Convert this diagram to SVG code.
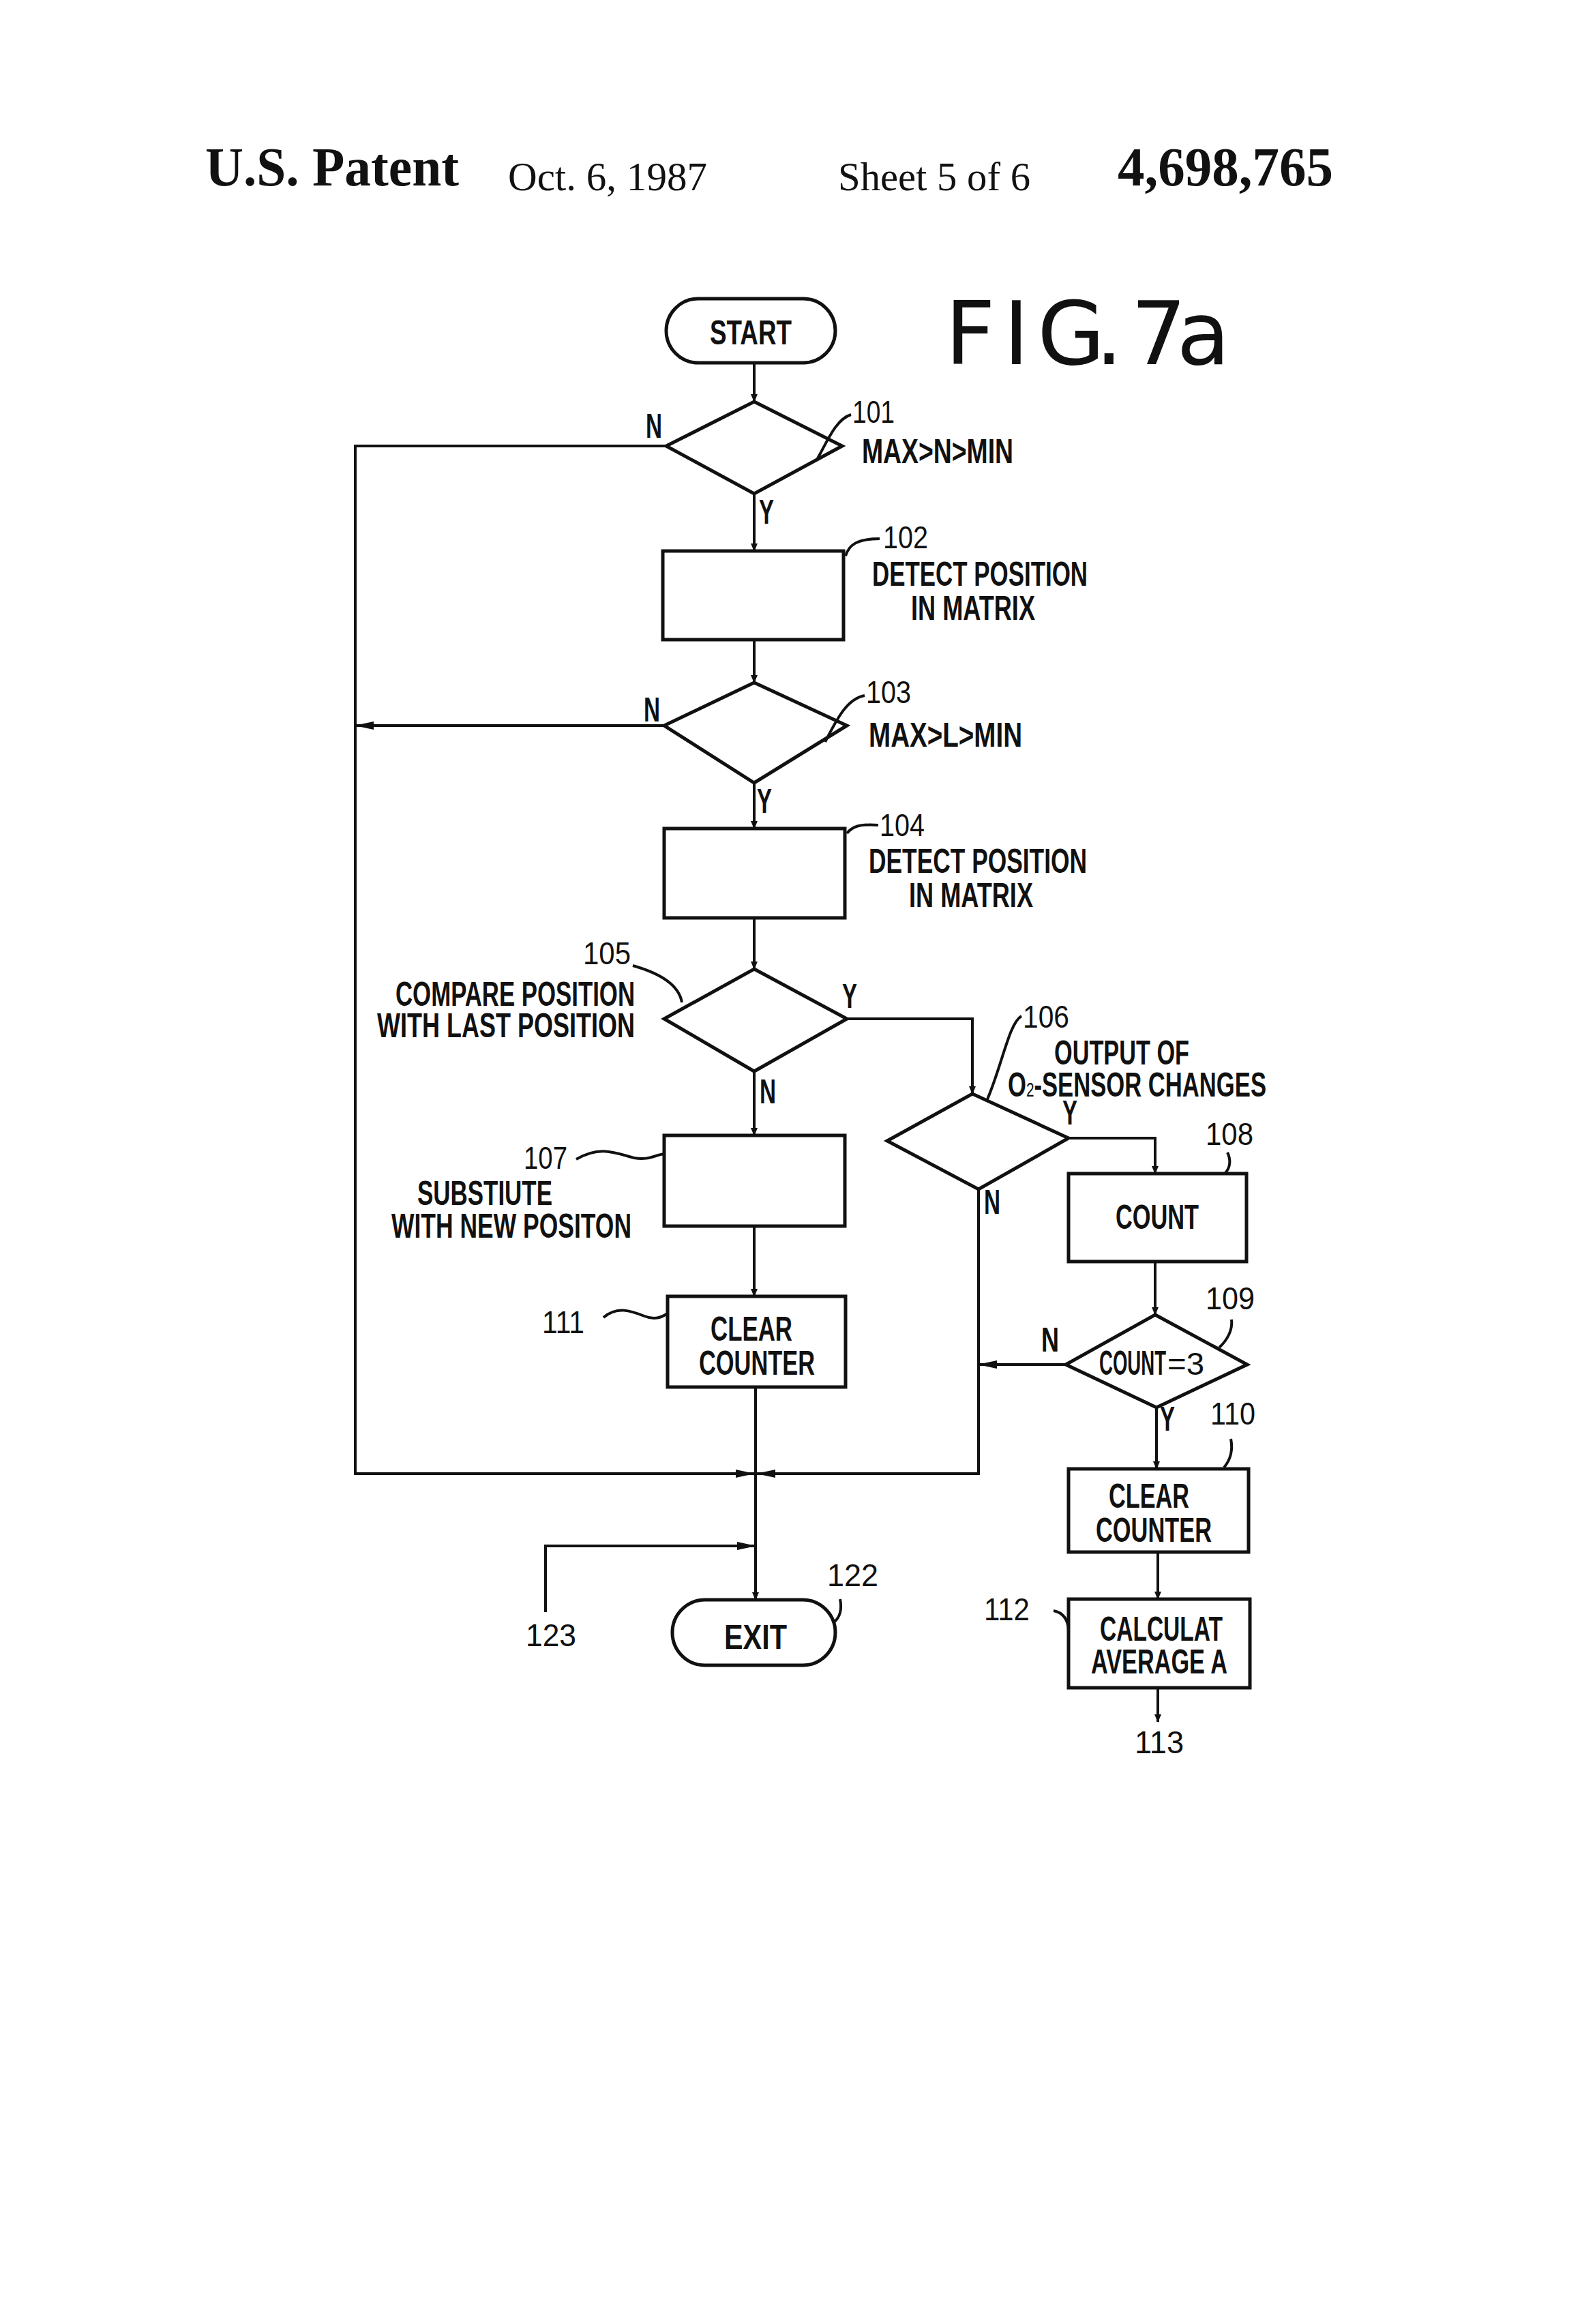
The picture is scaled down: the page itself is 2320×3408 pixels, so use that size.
<svg xmlns="http://www.w3.org/2000/svg" width="2320" height="3408" viewBox="0 0 2320 3408">
<style>
.s{fill:none;stroke:#111;stroke-width:4}
.b{fill:#fff;stroke:#111;stroke-width:5}
.t{font-family:"Liberation Sans",Arial,sans-serif;font-weight:bold;font-size:50px;fill:#111}
.n{font-family:"Liberation Sans",Arial,sans-serif;font-size:46px;fill:#111}
.h{font-family:"Liberation Serif","Times New Roman",serif;fill:#111}
</style>
<defs>
<marker id="a" markerWidth="12" markerHeight="10" refX="11" refY="5" orient="auto" markerUnits="userSpaceOnUse"><path d="M0,0 L12,5 L0,10 Z" fill="#111"/></marker>
<marker id="w" markerWidth="28" markerHeight="12" refX="27" refY="6" orient="auto" markerUnits="userSpaceOnUse"><path d="M0,0 L28,6 L0,12 Z" fill="#111"/></marker>
</defs>
<rect width="2320" height="3408" fill="#fff"/>
<text class="h" x="301" y="272" font-size="80" font-weight="bold" textLength="372" lengthAdjust="spacingAndGlyphs">U.S. Patent</text>
<text class="h" x="745" y="279" font-size="60" textLength="292" lengthAdjust="spacingAndGlyphs">Oct. 6, 1987</text>
<text class="h" x="1229" y="279" font-size="60" textLength="282" lengthAdjust="spacingAndGlyphs">Sheet 5 of 6</text>
<text class="h" x="1639" y="272" font-size="80" font-weight="bold" textLength="316" lengthAdjust="spacingAndGlyphs">4,698,765</text>
<text x="1386" y="534" font-family="DejaVu Sans,sans-serif" font-size="128" fill="#111" textLength="418" lengthAdjust="spacing">F I G. 7a</text>

<g id="connectors">
<path class="s" d="M1106,532 V589" marker-end="url(#a)"/>
<path class="s" d="M1106,724 V808" marker-end="url(#a)"/>
<path class="s" d="M977,654 H521 V2161 H1106" marker-end="url(#w)"/>
<path class="s" d="M1106,938 V1001" marker-end="url(#a)"/>
<path class="s" d="M974,1064 H521" marker-end="url(#w)"/>
<path class="s" d="M1106,1148 V1215" marker-end="url(#a)"/>
<path class="s" d="M1106,1346 V1421" marker-end="url(#a)"/>
<path class="s" d="M1106,1571 V1665" marker-end="url(#a)"/>
<path class="s" d="M1242,1494 H1426 V1604" marker-end="url(#a)"/>
<path class="s" d="M1567,1669 H1694 V1721" marker-end="url(#a)"/>
<path class="s" d="M1435,1744 V2161 H1110" marker-end="url(#w)"/>
<path class="s" d="M1106,1798 V1901" marker-end="url(#a)"/>
<path class="s" d="M1108,2034 V2346" marker-end="url(#a)"/>
<path class="s" d="M1694,1850 V1928" marker-end="url(#a)"/>
<path class="s" d="M1563,2001 H1435" marker-end="url(#w)"/>
<path class="s" d="M1696,2064 V2154" marker-end="url(#a)"/>
<path class="s" d="M1698,2276 V2345" marker-end="url(#a)"/>
<path class="s" d="M1698,2475 V2525" marker-end="url(#a)"/>
<path class="s" d="M800,2364 V2267 H1108" marker-end="url(#w)"/>
</g>

<g id="start"><rect class="b" x="977" y="438" width="248" height="94" rx="47"/><text class="t" x="1101" y="505" text-anchor="middle" textLength="120" lengthAdjust="spacingAndGlyphs">START</text></g>

<g id="n101"><path class="b" d="M1106,589 L1235,654 L1106,724 L977,654 Z"/>
<text class="t" x="947" y="642" textLength="24" lengthAdjust="spacingAndGlyphs">N</text>
<text class="t" x="1113" y="768" textLength="22" lengthAdjust="spacingAndGlyphs">Y</text>
<path class="s" stroke-width="2.5" d="M1198,674 C1212,650 1225,615 1248,608"/>
<text class="n" x="1250" y="620" textLength="62" lengthAdjust="spacingAndGlyphs">101</text>
<text class="t" x="1264" y="679" textLength="222" lengthAdjust="spacingAndGlyphs">MAX&gt;N&gt;MIN</text></g>

<g id="n102"><rect class="b" x="972" y="808" width="265" height="130"/>
<path class="s" stroke-width="2.5" d="M1240,815 C1245,800 1255,790 1290,790"/>
<text class="n" x="1295" y="804" textLength="66" lengthAdjust="spacingAndGlyphs">102</text>
<text class="t" x="1279" y="859" textLength="316" lengthAdjust="spacingAndGlyphs">DETECT POSITION</text>
<text class="t" x="1336" y="909" textLength="182" lengthAdjust="spacingAndGlyphs">IN MATRIX</text></g>

<g id="n103"><path class="b" d="M1106,1001 L1242,1064 L1106,1148 L974,1064 Z"/>
<text class="t" x="944" y="1058" textLength="24" lengthAdjust="spacingAndGlyphs">N</text>
<text class="t" x="1110" y="1192" textLength="22" lengthAdjust="spacingAndGlyphs">Y</text>
<path class="s" stroke-width="2.5" d="M1210,1088 C1225,1060 1240,1025 1268,1020"/>
<text class="n" x="1270" y="1031" textLength="66" lengthAdjust="spacingAndGlyphs">103</text>
<text class="t" x="1274" y="1095" textLength="225" lengthAdjust="spacingAndGlyphs">MAX&gt;L&gt;MIN</text></g>

<g id="n104"><rect class="b" x="974" y="1215" width="265" height="131"/>
<path class="s" stroke-width="2.5" d="M1242,1222 C1250,1212 1260,1208 1288,1210"/>
<text class="n" x="1290" y="1226" textLength="66" lengthAdjust="spacingAndGlyphs">104</text>
<text class="t" x="1274" y="1280" textLength="320" lengthAdjust="spacingAndGlyphs">DETECT POSITION</text>
<text class="t" x="1333" y="1330" textLength="182" lengthAdjust="spacingAndGlyphs">IN MATRIX</text></g>

<g id="n105"><path class="b" d="M1106,1421 L1242,1494 L1106,1571 L974,1494 Z"/>
<text class="t" x="1235" y="1478" textLength="22" lengthAdjust="spacingAndGlyphs">Y</text>
<text class="t" x="1114" y="1618" textLength="24" lengthAdjust="spacingAndGlyphs">N</text>
<path class="s" stroke-width="2.5" d="M928,1416 C960,1425 995,1440 1000,1470"/>
<text class="n" x="855" y="1414" textLength="70" lengthAdjust="spacingAndGlyphs">105</text>
<text class="t" x="580" y="1475" textLength="351" lengthAdjust="spacingAndGlyphs">COMPARE POSITION</text>
<text class="t" x="553" y="1521" textLength="378" lengthAdjust="spacingAndGlyphs">WITH LAST POSITION</text></g>

<g id="n106"><path class="b" d="M1426,1604 L1567,1669 L1435,1744 L1301,1673 Z"/>
<text class="t" x="1558" y="1649" textLength="22" lengthAdjust="spacingAndGlyphs">Y</text>
<text class="t" x="1443" y="1780" textLength="24" lengthAdjust="spacingAndGlyphs">N</text>
<path class="s" stroke-width="2.5" d="M1498,1490 C1480,1500 1470,1560 1448,1612"/>
<text class="n" x="1500" y="1507" textLength="68" lengthAdjust="spacingAndGlyphs">106</text>
<text class="t" x="1546" y="1561" textLength="198" lengthAdjust="spacingAndGlyphs">OUTPUT OF</text>
<text class="t" x="1478" y="1608" textLength="379" lengthAdjust="spacingAndGlyphs">O<tspan font-size="30" font-weight="normal">2</tspan>-SENSOR CHANGES</text></g>

<g id="n107"><rect class="b" x="974" y="1665" width="265" height="133"/>
<path class="s" stroke-width="2.5" d="M845,1700 C880,1680 900,1690 930,1698 C950,1702 960,1694 974,1692"/>
<text class="n" x="768" y="1714" textLength="64" lengthAdjust="spacingAndGlyphs">107</text>
<text class="t" x="612" y="1767" textLength="198" lengthAdjust="spacingAndGlyphs">SUBSTIUTE</text>
<text class="t" x="574" y="1815" textLength="352" lengthAdjust="spacingAndGlyphs">WITH NEW POSITON</text></g>

<g id="n108"><rect class="b" x="1567" y="1721" width="261" height="129"/>
<path class="s" stroke-width="2.5" d="M1800,1690 C1805,1700 1805,1712 1796,1721"/>
<text class="n" x="1768" y="1679" textLength="70" lengthAdjust="spacingAndGlyphs">108</text>
<text class="t" x="1697" y="1802" text-anchor="middle" textLength="122" lengthAdjust="spacingAndGlyphs">COUNT</text></g>

<g id="n109"><path class="b" d="M1694,1928 L1829,2001 L1696,2064 L1563,2001 Z"/>
<text class="t" x="1527" y="1982" textLength="26" lengthAdjust="spacingAndGlyphs">N</text>
<text class="t" x="1701" y="2098" textLength="22" lengthAdjust="spacingAndGlyphs">Y</text>
<path class="s" stroke-width="2.5" d="M1806,1935 C1808,1950 1800,1965 1788,1976"/>
<text class="n" x="1768" y="1920" textLength="72" lengthAdjust="spacingAndGlyphs">109</text>
<text class="t" x="1612" y="2016" textLength="98" lengthAdjust="spacingAndGlyphs">COUNT</text>
<text class="n" x="1712" y="2016" textLength="54" lengthAdjust="spacingAndGlyphs">=3</text></g>

<g id="n110"><rect class="b" x="1567" y="2154" width="264" height="122"/>
<path class="s" stroke-width="2.5" d="M1805,2110 C1808,2125 1805,2140 1795,2152"/>
<text class="n" x="1775" y="2089" textLength="66" lengthAdjust="spacingAndGlyphs">110</text>
<text class="t" x="1685" y="2211" text-anchor="middle" textLength="118" lengthAdjust="spacingAndGlyphs">CLEAR</text>
<text class="t" x="1692" y="2261" text-anchor="middle" textLength="170" lengthAdjust="spacingAndGlyphs">COUNTER</text></g>

<g id="n111"><rect class="b" x="979" y="1901" width="261" height="133"/>
<path class="s" stroke-width="2.5" d="M885,1932 C905,1915 925,1922 945,1930 C960,1936 970,1932 979,1926"/>
<text class="n" x="795" y="1955" textLength="62" lengthAdjust="spacingAndGlyphs">111</text>
<text class="t" x="1102" y="1966" text-anchor="middle" textLength="120" lengthAdjust="spacingAndGlyphs">CLEAR</text>
<text class="t" x="1110" y="2016" text-anchor="middle" textLength="170" lengthAdjust="spacingAndGlyphs">COUNTER</text></g>

<g id="n112"><rect class="b" x="1567" y="2345" width="266" height="130"/>
<path class="s" stroke-width="2.5" d="M1545,2362 C1560,2365 1566,2375 1567,2390"/>
<text class="n" x="1443" y="2376" textLength="67" lengthAdjust="spacingAndGlyphs">112</text>
<text class="t" x="1703" y="2406" text-anchor="middle" textLength="180" lengthAdjust="spacingAndGlyphs">CALCULAT</text>
<text class="t" x="1700" y="2454" text-anchor="middle" textLength="200" lengthAdjust="spacingAndGlyphs">AVERAGE A</text>
<text class="n" x="1700" y="2571" text-anchor="middle" textLength="72" lengthAdjust="spacingAndGlyphs">113</text></g>

<g id="exit"><rect class="b" x="986" y="2346" width="239" height="96" rx="48"/>
<path class="s" stroke-width="2.5" d="M1232,2345 C1235,2360 1232,2372 1222,2380"/>
<text class="n" x="1213" y="2326" textLength="75" lengthAdjust="spacingAndGlyphs">122</text>
<text class="t" x="1108" y="2418" text-anchor="middle" textLength="92" lengthAdjust="spacingAndGlyphs">EXIT</text>
<text class="n" x="771" y="2414" textLength="74" lengthAdjust="spacingAndGlyphs">123</text></g>
</svg>
